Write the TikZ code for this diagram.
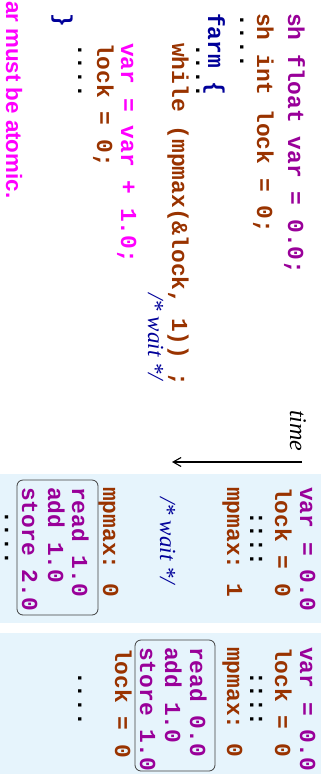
\documentclass[tikz,border=0pt]{standalone}
\usepackage{fontspec}
\setmainfont{Liberation Serif}
\setsansfont{Liberation Sans}
\setmonofont{Liberation Mono}
\usepackage{xcolor}
\usetikzlibrary{arrows.meta}
\definecolor{racevar}{HTML}{990099}
\definecolor{racelock}{HTML}{993300}
\definecolor{raceblue}{HTML}{000099}
\definecolor{racemag}{HTML}{FF00FF}
\definecolor{racepanel}{HTML}{E6F4FC}

\begin{document}
\begin{tikzpicture}[x=1pt,y=-1pt,
  code/.style={rotate=-90,anchor=base west,inner sep=0pt,font=\fontsize{22.9}{25}\selectfont\ttfamily\bfseries},
  note/.style={rotate=-90,anchor=base west,inner sep=0pt,font=\fontsize{23}{25}\selectfont\itshape},
  stepbox/.style={draw=black!75,thick,rounded corners=6pt},
  panel/.style={fill=racepanel,draw=none},
  >={Straight Barb[length=8pt,width=9pt]}]

  \useasboundingbox (0,0) rectangle (324,774);

  % program text
  \node[code,racevar]  (l1) at (288,13) {sh float var = 0.0;};
  \node[code,racelock] (l2) at (257,13) {sh int lock = 0;};
  \node[code]          (l3) at (240,13) {....};
  \node[code,raceblue] (l4) at (208,13) {farm \{};
  \node[code]          (l5) at (196,43) {....};
  \node[code,racelock] (l6) at (172,43) {while (mpmax(\&lock, 1)) ;};
  \node[note,raceblue] (w0) at (148,293) {/* wait */};
  \node[code,racemag]  (l7) at (121,43) {var = var + 1.0;};
  \node[code,racelock] (l8) at (97,43) {lock = 0;};
  \node[code]          (l9) at (78,43) {....};
  \node[code,raceblue] (l10) at (56,13) {\}};
  \node[rotate=-90,anchor=base west,inner sep=0pt,racemag,font=\fontsize{22.3}{25}\selectfont\sffamily\bfseries] (msg) at (6,1) {ar must be atomic.};

  % time axis
  \node[note,font=\fontsize{24}{25}\selectfont\itshape] (time) at (290,410) {time};
  \coordinate (t0) at (302,462);
  \coordinate (t1) at (172,462);
  \draw[->,line width=1.1pt] (t0) -- (t1);

  % first thread
  \fill[panel] (0,474) rectangle (321,623);
  \node[code,racevar]  (a1) at (300,487) {var = 0.0};
  \node[code,racelock] (a2) at (275,487) {lock = 0};
  \node[code]          (a3) at (250,511) {::::};
  \node[code,racelock] (a4) at (227,487) {mpmax: 1};
  \node[note,raceblue] (a5) at (160,497) {/* wait */};
  \node[code,racelock] (a6) at (103,487) {mpmax: 0};
  \node[code,racevar]  (a7) at (72,487) {read 1.0};
  \node[code,racevar]  (a8) at (48,487) {add 1.0};
  \node[code,racevar]  (a9) at (22,487) {store 2.0};
  \node[code]          (a10) at (5,510) {....};
  \draw[stepbox] (17,480) rectangle (98,615);

  % second thread
  \fill[panel] (0,633) rectangle (321,780);
  \node[code,racevar]  (b1) at (300,647) {var = 0.0};
  \node[code,racelock] (b2) at (275,647) {lock = 0};
  \node[code]          (b3) at (250,671) {::::};
  \node[code,racelock] (b4) at (227,647) {mpmax: 0};
  \node[code,racevar]  (b5) at (190,647) {read 0.0};
  \node[code,racevar]  (b6) at (165,647) {add 1.0};
  \node[code,racevar]  (b7) at (140,647) {store 1.0};
  \node[code,racelock] (b8) at (115,648) {lock = 0};
  \node[code]          (b9) at (78,671) {....};
  \draw[stepbox] (135,640) rectangle (215,771);

\end{tikzpicture}
\end{document}
